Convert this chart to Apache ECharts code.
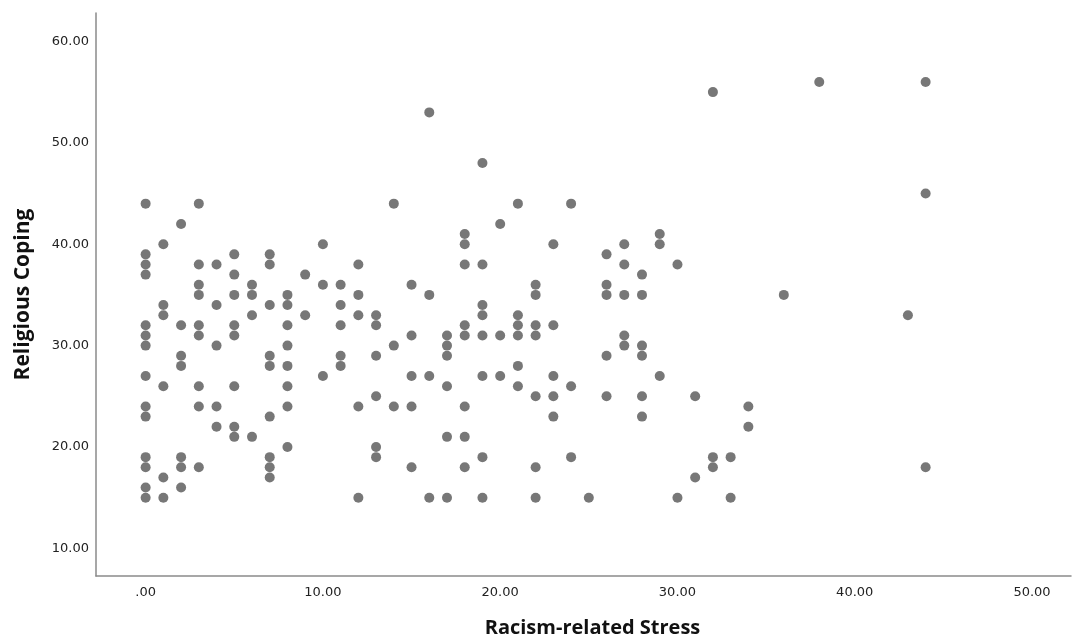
<!DOCTYPE html>
<html>
<head>
<meta charset="utf-8">
<script src="https://cdn.jsdelivr.net/npm/echarts@6/dist/echarts.min.js"></script>
<style>
html,body{margin:0;padding:0;background:#fff;}
#chart{width:1073px;height:641px;}
</style>
</head>
<body>
<div id="chart"></div>
<script>
// Racism-related Stress values (x) and the Religious Coping scores observed at each
const stressLevels = [0,1,2,3,4,5,6,7,8,9,10,11,12,13,14,15,16,17,18,19,20,21,22,23,24,25,26,27,28,29,30,31,32,33,34,36,38,43,44];
const copingScores = [
  [44,39,38,37,32,31,30,27,24,23,19,18,16,15],
  [40,34,33,26,17,15],
  [42,32,29,28,19,18,16],
  [44,38,36,35,32,31,26,24,18],
  [38,34,30,24,22],
  [39,37,35,32,31,26,22,21],
  [36,35,33,21],
  [39,38,34,29,28,23,19,18,17],
  [35,34,32,30,28,26,24,20],
  [37,33],
  [40,36,27],
  [36,34,32,29,28],
  [38,35,33,24,15],
  [33,32,29,25,20,19],
  [44,30,24],
  [36,31,27,24,18],
  [53,35,27,15],
  [31,30,29,26,21,15],
  [41,40,38,32,31,24,21,18],
  [48,38,34,33,31,27,19,15],
  [42,31,27],
  [44,33,32,31,28,26],
  [36,35,32,31,25,18,15],
  [40,32,27,25,23],
  [44,26,19],
  [15],
  [39,36,35,29,25],
  [40,38,35,31,30],
  [37,35,30,29,25,23],
  [41,40,27],
  [38,15],
  [25,17],
  [55,19,18],
  [19,15],
  [24,22],
  [35],
  [56],
  [33],
  [56,45,18]
];
const xTitle = 'Racism-related Stress';
const yTitle = 'Religious Coping';

const points = [];
stressLevels.forEach((x, i) => copingScores[i].forEach(y => points.push([x, y])));

function tickFmt(v) {
  const r = Math.round(v);
  if (Math.abs(v - r) > 1e-6 || r % 10 !== 0) return '';
  return r === 0 ? '.00' : r.toFixed(2);
}

const chart = echarts.init(document.getElementById('chart'), null, {renderer: 'canvas'});
const axisLabelStyle = {color: '#222', fontFamily: 'DejaVu Sans', fontSize: 13, formatter: tickFmt, showMinLabel: false, showMaxLabel: false};
chart.setOption({
  animation: false,
  backgroundColor: '#ffffff',
  grid: {left: 96, right: 2, top: 13, bottom: 65, containLabel: false, outerBoundsMode: 'none'},
  xAxis: {
    type: 'value', min: -2.8, max: 52.2, splitNumber: 5,
    name: xTitle, nameLocation: 'middle', nameGap: 42,
    nameTextStyle: {fontFamily: 'Open Sans', fontWeight: 'bold', fontSize: 20, color: '#111', padding: [0, 0, 0, 18]},
    axisLine: {show: true, onZero: false, lineStyle: {color: '#8a8a8a', width: 1.5}},
    axisTick: {show: false},
    splitLine: {show: false},
    axisLabel: Object.assign({margin: 10}, axisLabelStyle)
  },
  yAxis: {
    type: 'value', min: 7.28, max: 62.8, splitNumber: 5,
    name: yTitle, nameLocation: 'middle', nameGap: 62, nameRotate: 90,
    nameTextStyle: {fontFamily: 'Open Sans', fontWeight: 'bold', fontSize: 21, color: '#111'},
    axisLine: {show: true, onZero: false, lineStyle: {color: '#8a8a8a', width: 1.5}},
    axisTick: {show: false},
    splitLine: {show: false},
    axisLabel: Object.assign({margin: 7}, axisLabelStyle)
  },
  series: [{
    type: 'scatter',
    data: points,
    symbol: 'circle',
    symbolSize: 10,
    itemStyle: {color: '#777777', opacity: 1}
  }]
});
</script>
</body>
</html>
